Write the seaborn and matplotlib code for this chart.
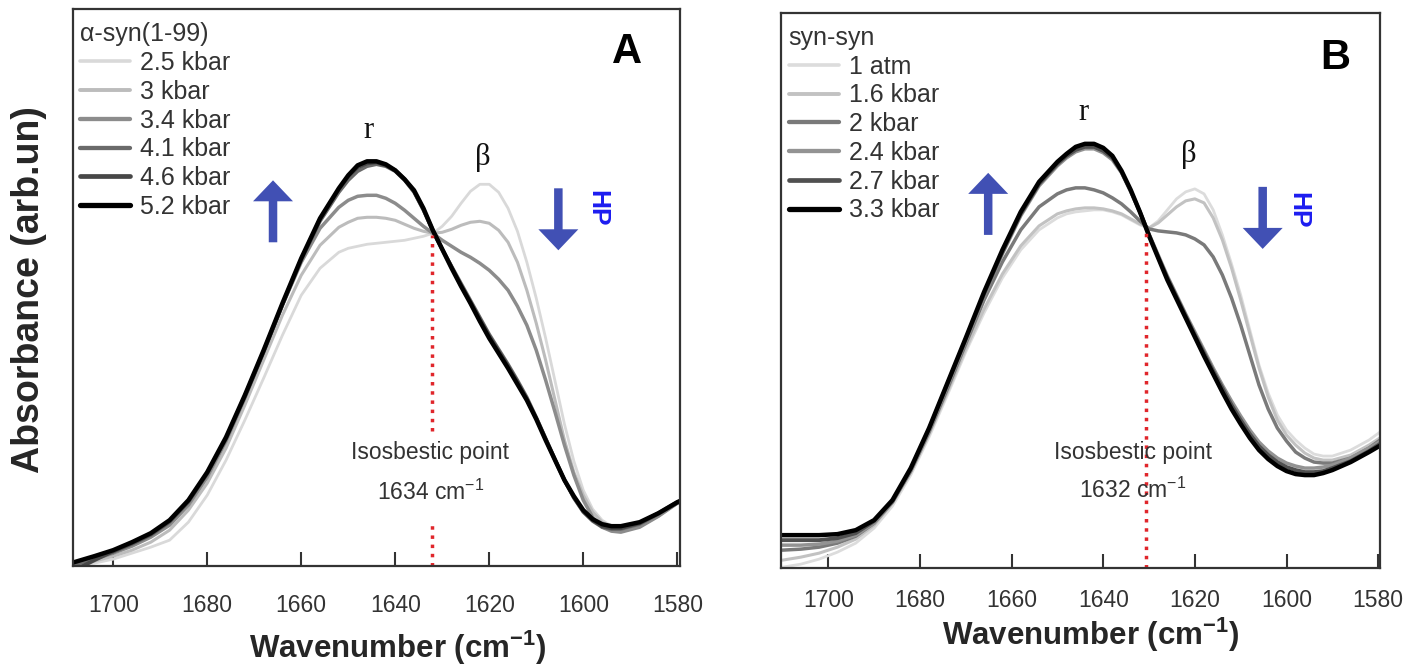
import numpy as np
import pandas as pd
import matplotlib
matplotlib.use("Agg")
import matplotlib.pyplot as plt
from matplotlib.lines import Line2D
from matplotlib.patches import FancyArrow
import seaborn as sns

# ---- panel A : alpha-syn(1-99), absorbance in arb. units
wn_a = ([1709, 1704, 1700, 1696, 1692, 1688, 1684, 1680, 1676, 1672, 1668, 1664,
         1660, 1656]
        + [1652, 1650, 1648, 1646, 1644, 1642, 1640, 1638, 1636, 1634, 1632, 1630,
           1628, 1626, 1624, 1622, 1620, 1618, 1616, 1614, 1612, 1610, 1608, 1606,
           1604, 1602, 1600, 1598, 1596, 1594, 1592]
        + [1588, 1584, 1580, 1579])
a_25 = [0, 3, 7, 13, 19, 26, 44, 71, 106, 146, 188, 231, 271, 298,
        314, 318, 320, 322, 323, 324, 325, 326, 328, 330, 333, 340, 350, 363, 375, 382,
        382, 374, 358, 335, 304, 268, 228, 185, 142, 105, 76, 57, 46, 40, 38,
        42, 52, 64, 66]
a_30 = [0, 5, 10, 16, 24, 36, 56, 83, 118, 161, 206, 251, 291, 321,
        339, 344, 348, 349, 349, 348, 346, 342, 338, 335, 333, 334, 337, 341, 344, 345,
        343, 336, 324, 304, 276, 243, 206, 166, 126, 94, 71, 54, 44, 39, 37,
        40, 50, 63, 65]
a_34 = [0, 7, 13, 20, 29, 41, 61, 89, 125, 168, 214, 261, 304, 338,
        359, 366, 370, 371, 371, 368, 363, 356, 348, 340, 333, 326, 320, 314, 309, 303,
        296, 287, 276, 260, 241, 216, 186, 154, 121, 91, 66, 49, 39, 35, 34,
        39, 50, 63, 65]
a_41 = [0, 8, 14, 22, 31, 44, 64, 92, 127, 169, 214, 261, 306, 345,
        374, 386, 395, 400, 402, 400, 395, 386, 374, 356, 335, 317, 300, 283, 266, 249,
        232, 217, 202, 186, 169, 149, 128, 107, 86, 68, 54, 45, 39, 37, 37,
        42, 52, 63, 65]
a_46 = [-6, 6, 15, 23, 32, 45, 65, 93, 128, 170, 215, 262, 307, 347,
        377, 390, 399, 403, 404, 401, 396, 387, 375, 357, 336, 317, 299, 281, 264, 247,
        230, 215, 200, 184, 167, 148, 127, 106, 86, 69, 55, 46, 40, 38, 38,
        43, 53, 64, 66]
a_52 = [3, 10, 16, 24, 33, 46, 66, 94, 129, 171, 216, 263, 308, 348,
        378, 391, 401, 405, 405, 402, 396, 387, 376, 358, 336, 317, 298, 280, 263, 245,
        228, 213, 198, 182, 166, 147, 126, 106, 86, 70, 56, 47, 42, 40, 40,
        44, 53, 64, 66]
labels_a = ["2.5 kbar", "3 kbar", "3.4 kbar", "4.1 kbar", "4.6 kbar", "5.2 kbar"]
colors_a = ["#d9d9d9", "#bcbcbc", "#8c8c8c", "#6a6a6a", "#474747", "#000000"]
widths_a = [2.0, 2.2, 2.5, 2.5, 2.8, 3.2]

# ---- panel B : syn-syn
wn_b = ([1710, 1706, 1702, 1698, 1694, 1690, 1686, 1682, 1678, 1674, 1670, 1666,
         1662, 1658, 1654]
        + [1650, 1648, 1646, 1644, 1642, 1640, 1638, 1636, 1634, 1632, 1630, 1628,
           1626, 1624, 1622, 1620, 1618, 1616, 1614, 1612, 1610, 1608, 1606, 1604,
           1602, 1600, 1598, 1596, 1594, 1592, 1590]
        + [1586, 1582, 1579])
b_1atm = [1, 4, 9, 16, 25, 40, 62, 93, 131, 173, 216, 255, 290, 318, 338,
          350, 354, 356, 357, 358, 358, 356, 353, 348, 343, 340, 347, 358, 369, 376, 379,
          374, 358, 333, 304, 273, 238, 203, 175, 153, 138, 128, 120, 114, 112, 112,
          118, 128, 138]
b_16 = [8, 11, 15, 21, 29, 43, 65, 96, 134, 176, 219, 259, 294, 322, 342,
        354, 357, 359, 360, 360, 359, 357, 354, 349, 344, 340, 345, 353, 361, 367, 369,
        365, 350, 328, 300, 268, 234, 200, 171, 148, 133, 123, 115, 110, 108, 108,
        113, 123, 132]
b_20 = [18, 19, 21, 25, 32, 45, 66, 97, 136, 179, 224, 268, 306, 338, 361,
        374, 378, 380, 380, 378, 375, 370, 364, 356, 347, 339, 337, 336, 335, 333, 329,
        323, 311, 293, 270, 243, 213, 183, 159, 140, 127, 116, 110, 106, 105, 105,
        110, 120, 130]
b_24 = [23, 23, 24, 27, 33, 45, 66, 98, 138, 182, 227, 272, 314, 352, 382,
        402, 410, 416, 419, 419, 415, 408, 395, 376, 356, 334, 313, 292, 273, 254, 236,
        218, 200, 183, 167, 152, 138, 126, 117, 110, 105, 102, 100, 100, 101, 103,
        110, 120, 128]
b_27 = [28, 28, 28, 30, 35, 47, 67, 99, 139, 184, 229, 274, 316, 354, 384,
        404, 412, 418, 421, 421, 417, 410, 396, 377, 356, 333, 311, 290, 271, 252, 233,
        215, 197, 180, 163, 148, 134, 122, 113, 106, 101, 98, 96, 96, 97, 100,
        107, 117, 126]
b_33 = [33, 33, 33, 34, 38, 48, 68, 100, 140, 185, 230, 276, 318, 356, 386,
        406, 414, 421, 424, 424, 420, 412, 397, 378, 356, 332, 310, 288, 269, 250, 231,
        212, 194, 176, 159, 144, 130, 118, 109, 102, 97, 94, 93, 93, 95, 98,
        106, 116, 124]
labels_b = ["1 atm", "1.6 kbar", "2 kbar", "2.4 kbar", "2.7 kbar", "3.3 kbar"]
colors_b = ["#dcdcdc", "#c2c2c2", "#7a7a7a", "#939393", "#505050", "#000000"]
widths_b = [2.0, 2.2, 2.5, 2.5, 2.8, 3.2]

ticks = [1700, 1680, 1660, 1640, 1620, 1600, 1580]
iso_line_a, iso_label_a = 1632.2, "1634"
iso_line_b, iso_label_b = 1630.6, "1632"

sns.set_theme(style="white")
plt.rcParams["font.family"] = ["Liberation Sans", "DejaVu Sans"]
plt.rcParams["mathtext.default"] = "regular"

ARROW = "#4150b4"
HPBLUE = "#1c1cf0"
GREY = "#333333"

fig = plt.figure(figsize=(14.24, 6.70), dpi=100)
ax_a = fig.add_axes([0.0511, 0.155, 0.4265, 0.831])
ax_b = fig.add_axes([0.5485, 0.152, 0.4206, 0.829])


def long_df(wn, series, labels):
    return pd.DataFrame({
        "wavenumber": wn * len(series),
        "absorbance": sum(series, []),
        "pressure": np.repeat(labels, len(wn)),
    })


def draw_panel(ax, wn, series, labels, colors, widths, title, xlim, ylim, pad):
    df = long_df(wn, series, labels)
    sns.lineplot(data=df, x="wavenumber", y="absorbance", hue="pressure",
                 hue_order=labels, palette=dict(zip(labels, colors)),
                 size="pressure", size_order=labels,
                 sizes=dict(zip(labels, widths)), estimator=None,
                 legend=False, ax=ax)
    for ln in ax.lines:
        ln.set_solid_joinstyle("round")
    ax.set_xlim(*xlim)
    ax.set_ylim(*ylim)
    ax.set_xticks(ticks)
    ax.set_yticks([])
    ax.set_xlabel("")
    ax.set_ylabel("")
    ax.tick_params(axis="x", direction="in", length=10, width=1.5, color=GREY,
                   labelsize=16.5, labelcolor=GREY, pad=pad, bottom=True)
    for sp in ax.spines.values():
        sp.set_color(GREY)
        sp.set_linewidth(1.6)
    handles = [Line2D([], [], color=c, lw=w + 0.6) for c, w in zip(colors, widths)]
    leg = ax.legend(handles, labels, title=title, loc="upper left",
                    bbox_to_anchor=(0.0, 0.99), frameon=False, fontsize=18,
                    title_fontsize=18, handlelength=2.0, handletextpad=0.4,
                    labelspacing=0.19, borderaxespad=0.15, borderpad=0.15,
                    alignment="left", labelcolor=GREY)
    leg.get_title().set_color(GREY)


draw_panel(ax_a, wn_a, [a_25, a_30, a_34, a_41, a_46, a_52], labels_a, colors_a,
           widths_a, "\u03b1-syn(1-99)", (1708.6, 1579.4), (0, 557), 20)
draw_panel(ax_b, wn_b, [b_1atm, b_16, b_20, b_24, b_27, b_33], labels_b, colors_b,
           widths_b, "syn-syn", (1710.3, 1579.6), (0, 555), 15)

# isosbestic markers
ax_a.vlines(iso_line_a, 135, 331, colors="#e0262b", linestyles=":", lw=2.5)
ax_a.vlines(iso_line_a, 0, 46, colors="#e0262b", linestyles=":", lw=2.5)
ax_b.vlines(iso_line_b, 0, 338, colors="#e0262b", linestyles=":", lw=2.5)
for ax, x, lab, y1, y2 in [(ax_a, 1632.5, iso_label_a, 114, 74),
                           (ax_b, 1633.6, iso_label_b, 116, 78)]:
    ax.text(x, y1, "Isosbestic point", ha="center", va="center",
            fontsize=16.5, color=GREY)
    ax.text(x, y2, lab + " cm$^{-1}$", ha="center", va="center",
            fontsize=16.5, color=GREY)

# peak labels, arrows, panel letters
for ax, rx, ry, bx, by, up_x, up_y, dn_x, dn_y, hp_x, letter, lx, ly, pxu in [
        (ax_a, 1645.7, 436, 1621.3, 409, 1666, 324, 1605.3, 378, 1597, "A", 1590.6, 514, 4.7),
        (ax_b, 1644.3, 455, 1621.4, 413, 1665.1, 333, 1605.2, 381, 1597.4, "B", 1589.3, 510, 4.58)]:
    ax.text(rx, ry, "r", family=["Liberation Serif", "DejaVu Serif"],
            fontsize=22, ha="center", va="center", color="#111111")
    ax.text(bx, by, "\u03b2", family=["Liberation Serif", "DejaVu Serif"],
            fontsize=22, ha="center", va="center", color="#111111")
    ax.add_patch(FancyArrow(up_x, up_y, 0, 62, width=8.5 / pxu, head_width=40 / pxu,
                            head_length=21, length_includes_head=True,
                            color=ARROW, lw=0))
    ax.add_patch(FancyArrow(dn_x, dn_y, 0, -62, width=8.5 / pxu, head_width=40 / pxu,
                            head_length=21, length_includes_head=True,
                            color=ARROW, lw=0))
    ax.text(hp_x, 358, "HP", rotation=-90, color=HPBLUE, fontsize=19,
            fontweight="bold", ha="center", va="center")
    ax.text(lx, ly, letter, fontsize=30, fontweight="bold", ha="center",
            va="center", color="black")

fig.text(29 / 1424, 1 - 290 / 670, "Absorbance (arb.un)", rotation=90,
         fontsize=27, fontweight="bold", ha="center", va="center")
fig.text(398 / 1424, 1 - 648 / 670, "Wavenumber (cm$^{-1}$)", fontsize=22.5,
         fontweight="bold", ha="center", va="center")
fig.text(1091 / 1424, 1 - 635 / 670, "Wavenumber (cm$^{-1}$)", fontsize=22.5,
         fontweight="bold", ha="center", va="center")

fig.savefig("out.png", dpi=100)
